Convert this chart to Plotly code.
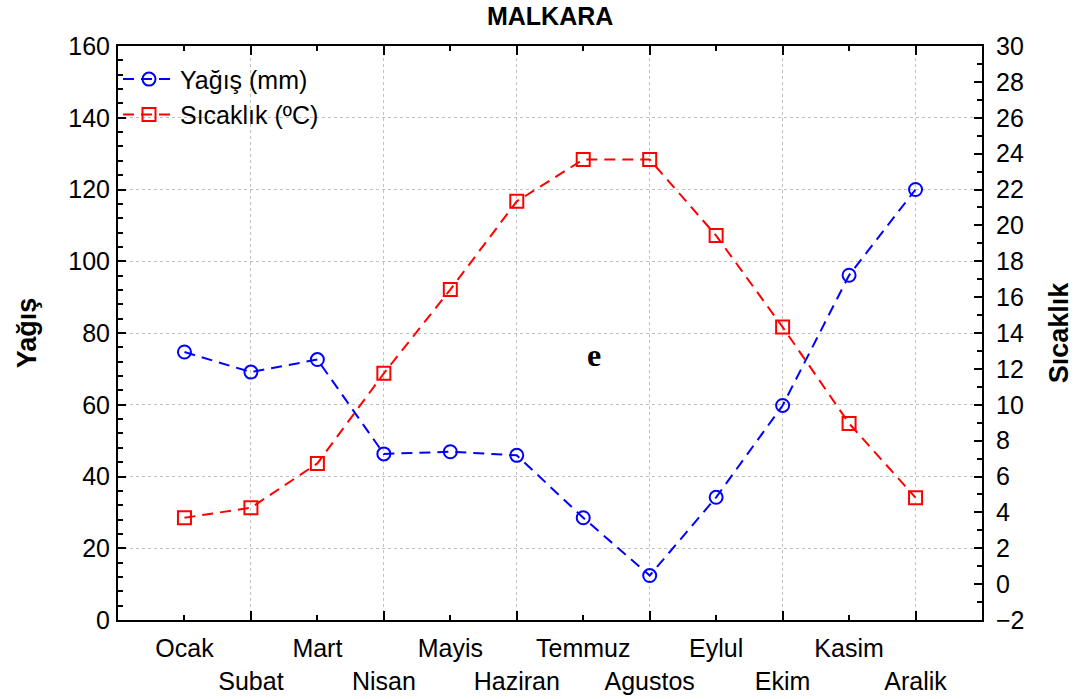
import plotly.graph_objects as go

# Monthly climate values for Malkara
months = ["Ocak", "Subat", "Mart", "Nisan", "Mayis", "Haziran",
          "Temmuz", "Agustos", "Eylul", "Ekim", "Kasim", "Aralik"]
yagis = [74.7, 69.1, 72.6, 46.3, 46.9, 45.9, 28.5, 12.4, 34.2, 59.8, 96.1, 120.0]
sicaklik = [3.70, 4.26, 6.73, 11.75, 16.42, 21.34, 23.67, 23.67, 19.43, 14.33, 8.96, 4.82]

yagis_ticks = [0, 20, 40, 60, 80, 100, 120, 140, 160]
sicaklik_ticks = list(range(-2, 31, 2))

x_idx = list(range(len(months)))
# staggered labels: every second month goes on a lower row
tick_text = [m if i % 2 == 0 else "<br>" + m for i, m in enumerate(months)]

FONT = "Liberation Sans, Arial, sans-serif"
FS = 25
dash = "11px,7px"

fig = go.Figure()
fig.add_trace(go.Scatter(
    x=x_idx, y=yagis, name="Yağış (mm)", mode="lines+markers",
    line=dict(color="#0000ff", width=2, dash=dash),
    marker=dict(symbol="circle-open", size=13, color="#0000ff", line=dict(width=2)),
    yaxis="y",
))
fig.add_trace(go.Scatter(
    x=x_idx, y=sicaklik, name="Sıcaklık (ºC)", mode="lines+markers",
    line=dict(color="#ff0000", width=2, dash=dash),
    marker=dict(symbol="square-open", size=13, color="#ff0000", line=dict(width=2)),
    yaxis="y2",
))

fig.update_layout(
    width=1083, height=699,
    margin=dict(l=118, r=101, t=46, b=79, autoexpand=False),
    paper_bgcolor="white", plot_bgcolor="white",
    font=dict(family=FONT, size=FS, color="black"),
    title=dict(text="<b>MALKARA</b>", x=0.508, xanchor="center",
               y=1 - 16 / 699, yanchor="middle", yref="container",
               font=dict(size=FS, family=FONT)),
    showlegend=True,
    legend=dict(x=0.0, y=0.982, xanchor="left", yanchor="top",
                bgcolor="rgba(0,0,0,0)", font=dict(size=FS, family=FONT),
                tracegroupgap=0, itemwidth=52),
    xaxis=dict(
        range=[-1, 12], tickmode="array", tickvals=x_idx, ticktext=tick_text,
        tickangle=0, automargin=False, ticklabelstandoff=5,
        ticks="inside", ticklen=5, tickwidth=2, tickcolor="black",
        showline=True, linecolor="black", linewidth=2, mirror="ticks",
        showgrid=False, zeroline=False,
        tickfont=dict(size=FS, family=FONT),
        minor=dict(tickmode="array", tickvals=x_idx[1::2], ticks="inside",
                   ticklen=9, tickwidth=2, tickcolor="black", showgrid=True,
                   gridcolor="#c0c0c0", griddash="dot", gridwidth=1),
    ),
    yaxis=dict(
        range=[0, 160], tickmode="array", tickvals=yagis_ticks,
        automargin=False,
        ticks="inside", ticklen=8, tickwidth=2, tickcolor="black",
        showline=True, linecolor="black", linewidth=2, mirror=False,
        showgrid=True, gridcolor="#c0c0c0", griddash="dot", gridwidth=1,
        zeroline=False, tickfont=dict(size=FS, family=FONT),
        ticklabelstandoff=1,
        title=dict(text="<b>Yağış</b>", font=dict(size=27, family=FONT), standoff=24),
        minor=dict(dtick=4, tick0=0, ticks="inside", ticklen=5, tickwidth=2,
                   tickcolor="black", showgrid=False),
    ),
    yaxis2=dict(
        range=[-2, 30], overlaying="y", side="right", tickmode="array",
        tickvals=sicaklik_ticks, automargin=False,
        ticks="inside", ticklen=8, tickwidth=2, tickcolor="black",
        showline=True, linecolor="black", linewidth=2,
        showgrid=False, zeroline=False, tickfont=dict(size=FS, family=FONT),
        ticklabelstandoff=7,
        title=dict(text="<b>Sıcaklık</b>", font=dict(size=27, family=FONT), standoff=26),
        minor=dict(dtick=1, tick0=0, ticks="inside", ticklen=5, tickwidth=2,
                   tickcolor="black", showgrid=False),
    ),
    annotations=[dict(
        text="<b>e</b>", x=0.551, y=0.462, xref="paper", yref="paper",
        showarrow=False, font=dict(size=32, family="Liberation Serif, Times New Roman, serif"),
    )],
)

fig.write_html("out.html")
